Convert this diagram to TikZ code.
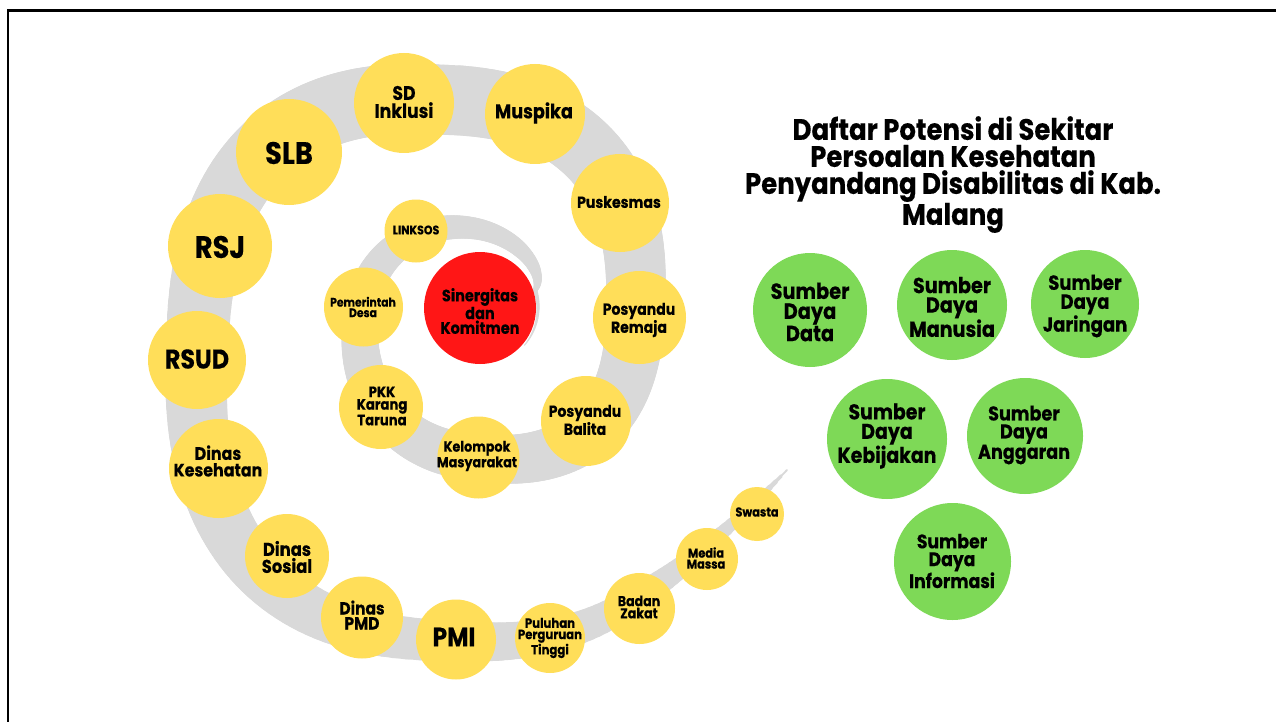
\documentclass[tikz,border=0pt]{standalone}
\usepackage{fontspec}
\newfontfamily\lb{Poppins}[FakeStretch=0.88,FakeBold=0.4]
\definecolor{ylw}{HTML}{FFDE59}
\definecolor{grn}{HTML}{7ED957}
\definecolor{rd}{HTML}{FF1616}
\definecolor{bandc}{HTML}{D9D9D9}
\newcommand\fs[2]{\lb\bfseries\fontsize{#1}{#2}\selectfont}
\tikzset{
  yc/.style={circle,fill=ylw,inner sep=0pt,minimum size=#1},
  gc/.style={circle,fill=grn,inner sep=0pt,minimum size=#1},
  rc/.style={circle,fill=rd,inner sep=0pt,minimum size=#1},
  tx/.style={inner sep=0pt,align=center,text=black},
  band/.style={draw=bandc,line cap=round},
}
\begin{document}
\begin{tikzpicture}[x=1pt,y=-1pt,
  declare function={
    pp(\t)=0.8+0.2*max(0,min(1,(1-\t)/0.75));
    cc(\a,\p)=ifthenelse(cos(\a)<0,-1,1)*(abs(cos(\a))+0.0001)^\p;
    ss(\a,\p)=ifthenelse(sin(\a)<0,-1,1)*(abs(sin(\a))+0.0001)^\p;
    spx(\t)=490.25-32.5*\t+(44.75+132.5*\t)*cc(360*\t,pp(\t));
    spy(\t)=290.25+27*\t-(27.75+157*\t)*ss(360*\t,pp(\t));
    bw(\t)=ifthenelse(\t<1.25,4+66*(\t/1.25+0.0001)^0.85,70-115*(\t-1.25)*(\t-1.25));
  }]
\useasboundingbox (0,0) rectangle (1276,722);
\fill[white] (0,0) rectangle (1276,722);
% frame
\draw[line width=2.8pt,line join=miter] (8,740) -- (8,10.3) -- (1290,10.3);

% spiral band: inner tip around the red circle
\foreach \i in {0,...,28}{
  \pgfmathsetmacro\aa{-40+2*\i}
  \pgfmathsetmacro\ab{-38+2*\i}
  \pgfmathsetmacro\w{1+3*\i/28}
  \draw[band,line width=\w pt] ({480+58*cos(\aa)},{308-58*sin(\aa)}) -- ({480+58*cos(\ab)},{308-58*sin(\ab)});
}
% spiral body
\foreach \i in {0,...,371}{
  \pgfmathsetmacro\xa{spx(\i*0.005)}
  \pgfmathsetmacro\ya{spy(\i*0.005)}
  \pgfmathsetmacro\xb{spx((\i+1)*0.005)}
  \pgfmathsetmacro\yb{spy((\i+1)*0.005)}
  \pgfmathsetmacro\w{bw((\i+0.5)*0.005)}
  \draw[band,line width=\w pt] (\xa,\ya) -- (\xb,\yb);
}
% tail
\pgfmathsetmacro\px{spx(1.86)}
\pgfmathsetmacro\py{spy(1.86)}
\foreach \i in {0,...,29}{
  \pgfmathsetmacro\sa{\i/30}
  \pgfmathsetmacro\sb{(\i+1)/30}
  \pgfmathsetmacro\xa{(1-\sa)^2*\px+2*(1-\sa)*\sa*701.6+\sa*\sa*787}
  \pgfmathsetmacro\ya{(1-\sa)^2*\py+2*(1-\sa)*\sa*558.9+\sa*\sa*470}
  \pgfmathsetmacro\xb{(1-\sb)^2*\px+2*(1-\sb)*\sb*701.6+\sb*\sb*787}
  \pgfmathsetmacro\yb{(1-\sb)^2*\py+2*(1-\sb)*\sb*558.9+\sb*\sb*470}
  \pgfmathsetmacro\w{27.2*(1-\sa-1/60+0.0001)^0.8+0.8}
  \draw[band,line width=\w pt] (\xa,\ya) -- (\xb,\yb);
}

% yellow circles
\node[yc=100pt] (sd)   at (404,103) {};
\node[yc=100pt] (mus)  at (535,114) {};
\node[yc=106pt] (slb)  at (289,152) {};
\node[yc=98pt]  (pus)  at (620,203) {};
\node[yc=104pt] (rsj)  at (220,246) {};
\node[yc=63pt]  (lnk)  at (416,231) {};
\node[yc=79pt]  (pem)  at (363.5,307) {};
\node[rc=112pt] (sin)  at (480,308) {};
\node[yc=93pt]  (rem)  at (639.5,317.5) {};
\node[yc=98pt]  (rsud) at (197,360) {};
\node[yc=84pt]  (pkk)  at (381,407) {};
\node[yc=90pt]  (bal)  at (586,421) {};
\node[yc=82pt]  (kel)  at (478.5,457.5) {};
\node[yc=99pt]  (dkes) at (218.5,468.5) {};
\node[yc=84pt]  (dsos) at (287,556) {};
\node[yc=82pt]  (dpmd) at (362,617.5) {};
\node[yc=80pt]  (pmi)  at (456,639.5) {};
\node[yc=70pt]  (pul)  at (550,638) {};
\node[yc=71pt]  (bad)  at (639.5,608.5) {};
\node[yc=62pt]  (med)  at (707,559) {};
\node[yc=54pt]  (swa)  at (757,514) {};

% green circles
\node[gc=114pt] (gdat) at (810,310) {};
\node[gc=110pt] (gman) at (952,305) {};
\node[gc=108pt] (gjar) at (1085,304) {};
\node[gc=120pt] (gkeb) at (887,439) {};
\node[gc=116pt] (gang) at (1025,436) {};
\node[gc=117pt] (ginf) at (952.5,561.5) {};

% labels
\node[tx,font={\fs{19.6}{18}}]   (sdt)   at (404,102) {SD\\Inklusi};
\node[tx,font={\fs{20}{17}}]     (must)  at (534,113) {Muspika};
\node[tx,font={\fs{31}{28}}]     (slbt)  at (289,153) {SLB};
\node[tx,font={\fs{16}{14}}]     (pust)  at (619,202) {Puskesmas};
\node[tx,font={\fs{31}{28}}]     (rsjt)  at (220,247) {RSJ};
\node[tx,font={\fs{12.5}{11}}]   (lnkt)  at (416,230) {LINKSOS};
\node[tx,font={\fs{12.3}{10.5}}] (pemt)  at (363,307) {Pemerintah\\Desa};
\node[tx,font={\fs{16.5}{14.7}}] (sint)  at (480,311) {Sinergitas\\dan\\Komitmen};
\node[tx,font={\fs{16}{15}}]     (remt)  at (639,320) {Posyandu\\Remaja};
\node[tx,font={\fs{27}{24}}]     (rsudt) at (197,359) {RSUD};
\node[tx,font={\fs{15}{12.5}}]   (pkkt)  at (382,406) {PKK\\Karang\\Taruna};
\node[tx,font={\fs{16}{15}}]     (balt)  at (585,420) {Posyandu\\Balita};
\node[tx,font={\fs{14.5}{12}}]   (kelt)  at (477,456) {Kelompok\\Masyarakat};
\node[tx,font={\fs{18}{16.6}}]   (dkest) at (218,461) {Dinas\\Kesehatan};
\node[tx,font={\fs{18.6}{17}}]   (dsost) at (287,557) {Dinas\\Sosial};
\node[tx,font={\fs{17.5}{15}}]   (dpmdt) at (362,615) {Dinas\\PMD};
\node[tx,font={\fs{26.5}{24}}]   (pmit)  at (454,637) {PMI};
\node[tx,font={\fs{13.3}{11.3}}] (pult)  at (550,638) {Puluhan\\Perguruan\\Tinggi};
\node[tx,font={\fs{14.3}{12.2}}] (badt)  at (639,607) {Badan\\Zakat};
\node[tx,font={\fs{12.9}{11}}]   (medt)  at (706,558) {Media\\Massa};
\node[tx,font={\fs{12.9}{11}}]   (swat)  at (757,512) {Swasta};

\node[tx,font={\fs{22}{20}}]     (gdatt) at (810,312) {Sumber\\Daya\\Data};
\node[tx,font={\fs{21.8}{19.5}}] (gmant) at (952,307) {Sumber\\Daya\\Manusia};
\node[tx,font={\fs{20.5}{19}}]   (gjart) at (1085,306) {Sumber\\Daya\\Jaringan};
\node[tx,font={\fs{21.5}{19.5}}] (gkebt) at (887,436) {Sumber\\Daya\\Kebijakan};
\node[tx,font={\fs{20}{18}}]     (gangt) at (1024,435) {Sumber\\Daya\\Anggaran};
\node[tx,font={\fs{19.6}{17.8}}] (ginft) at (952,561) {Sumber\\Daya\\Informasi};

% title
\node[tx,font={\fs{29.5}{27}},anchor=north] (title) at (953,116) {Daftar Potensi di Sekitar\\Persoalan Kesehatan\\Penyandang Disabilitas di Kab.\\Malang};
\end{tikzpicture}
\end{document}
